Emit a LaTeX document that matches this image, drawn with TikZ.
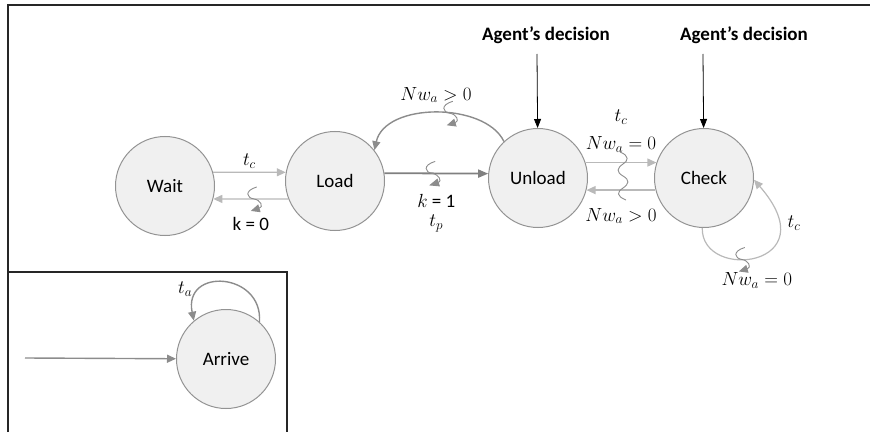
\RequirePackage{fix-cm}
\documentclass[tikz,border=0pt]{standalone}
\usepackage{fontspec}
\setmainfont{Carlito}
\usetikzlibrary{arrows.meta}

\tikzset{
  state/.style={circle, draw=gray!85, fill=gray!12, line width=1pt,
    minimum size=99pt, inner sep=0pt},
  decision/.style={font=\fontsize{19}{23}\selectfont\bfseries},
  frame/.style={line width=1.5pt, black!85},
  light/.style={draw=gray!55, line width=1.2pt,
    -{Triangle[length=9pt,width=8pt]}},
  dark/.style={draw=gray, line width=1.8pt,
    -{Triangle[length=10pt,width=8pt]}},
  mid/.style={draw=gray!90, line width=1.4pt,
    -{Triangle[length=9pt,width=8pt]}},
  agent/.style={draw=black, line width=.8pt,
    -{Triangle[length=9pt,width=7pt]}},
  squiggle/.style={draw=gray!90, line width=.9pt},
  squig/.pic={\draw[squiggle] (3,12) .. controls (-10,8) and (-7,1) .. (0,0)
    .. controls (7,-1) and (10,-8) .. (-3,-12);},
  tallsquig/.pic={\draw[squiggle] (-3,24) .. controls (7,20) and (5,15) .. (0,12)
    .. controls (-6,8) and (-7,4) .. (0,0)
    .. controls (7,-4) and (6,-8) .. (0,-12)
    .. controls (-6,-16) and (-7,-20) .. (3,-24);}
}

\begin{document}
\begin{tikzpicture}[x=1pt, y=1pt, font=\fontsize{19}{23}\selectfont]
  \useasboundingbox (0,0) rectangle (870,432);
  \draw[frame] (8,0) -- (8,427) -- (870,427);
  \draw[frame] (8,160) -- (287,160) -- (287,0);

  \node[state] (wait) at (165,246) {Wait};
  \node[state] (load) at (335,251) {Load};
  \node[state] (unload) at (538,254) {Unload};
  \node[state] (check) at (704,254) {Check};
  \node[state] (arrive) at (226,73) {Arrive};

  \node[decision] (dec1) at (546,397) {Agent’s decision};
  \node[decision] (dec2) at (744,397) {Agent’s decision};
  \coordinate (in1) at (537,378);
  \coordinate (in2) at (703,378);
  \coordinate (start) at (25,74);

  \draw[agent] (in1) -- (unload);
  \draw[agent] (in2) -- (check);

  \draw[light] (wait.16) -- node[above] {$t_c$} (load.170);
  \draw[light] (load.201) -- pic[pos=.46] {squig} node[below=14pt] {k = 0} (wait.345);

  \draw[dark] (load.9) -- pic[pos=.46] {squig}
    node[below=17pt, align=center] {$k$ = 1\\[-4pt]$t_p$} (unload.175);
  \draw[mid] (unload.133) .. controls (485,330) and (385,330) ..
    pic[pos=.42] {squig} node[above=6pt] {$Nw_a > 0$} (load.38);

  \draw[light] (unload.18) -- node[above=6pt, align=center] {$t_c$\\[5pt]$Nw_a = 0$} (check.162);
  \draw[light] (check.194) -- node[below=14pt] {$Nw_a > 0$} (unload.346);
  \pic at (623,256) {tallsquig};

  \draw[light] (check.268) .. controls (701,150) and (830,165) ..
    pic[pos=.4] {squig} node[pos=.42, below=9pt, xshift=12pt] {$Nw_a = 0$}
    node[pos=.8, right=6pt] {$t_c$} (check.358);

  \draw[mid] (start) -- (arrive);
  \draw[mid] (arrive.48) .. controls (263,160) and (183,165) ..
    node[pos=.72, left=6pt] {$t_a$} (arrive.130);
\end{tikzpicture}
\end{document}
